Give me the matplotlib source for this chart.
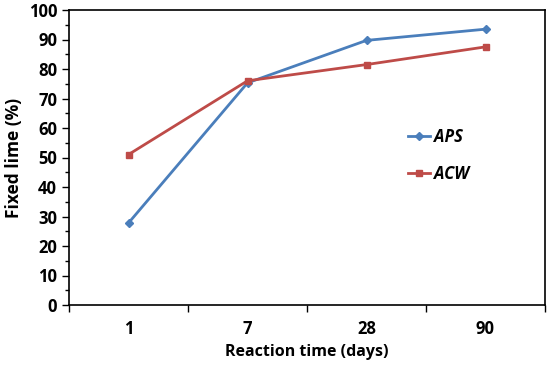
import matplotlib as mpl
mpl.use('Agg')
import matplotlib.pyplot as plt
from matplotlib.ticker import MultipleLocator, FixedLocator
import numpy as np

mpl.rc('font', family=['Open Sans', 'DejaVu Sans'], weight='bold', size=12)

days = ['1', '7', '28', '90']
aps = [27.8, 75.3, 89.7, 93.5]
acw = [51.0, 76.0, 81.5, 87.5]

fig = plt.figure(figsize=(5.5, 3.68), dpi=100)
ax = fig.add_axes([69/550, 1-305/368, 476/550, 295/368])

x = np.arange(len(days))
ax.plot(x, aps, '-D', color='#4A7EBB', lw=2, ms=4, label='APS')
ax.plot(x, acw, '-s', color='#BE4B48', lw=2, ms=5, label='ACW')

ax.set_xlim(-0.5, len(days) - 0.5)
ax.set_ylim(0, 100)
ax.yaxis.set_major_locator(MultipleLocator(10))
ax.yaxis.set_minor_locator(MultipleLocator(5))
ax.set_xticks(x)
ax.set_xticklabels(days)
ax.xaxis.set_minor_locator(FixedLocator(np.arange(-0.5, len(days), 1)))
ax.tick_params(axis='x', which='major', length=0, pad=11)
ax.tick_params(axis='x', which='minor', length=5, width=1, direction='out')
ax.tick_params(axis='y', which='major', length=5, width=1, direction='out')
ax.tick_params(axis='y', which='minor', length=3, width=1, direction='out')
for s in ax.spines.values():
    s.set_linewidth(1.2)

ax.set_xlabel('Reaction time (days)', fontweight='bold', fontsize=11.5, labelpad=4)
ax.set_ylabel('Fixed lime (%)', fontweight='bold', fontsize=12.5, labelpad=4)

leg = ax.legend(loc='upper left', bbox_to_anchor=(0.68, 0.65), frameon=False,
                prop={'style': 'italic', 'weight': 'bold', 'size': 12},
                handlelength=1.35, labelspacing=1.1, handletextpad=0.2)

plt.savefig('out.png', dpi=100)
plt.close()
